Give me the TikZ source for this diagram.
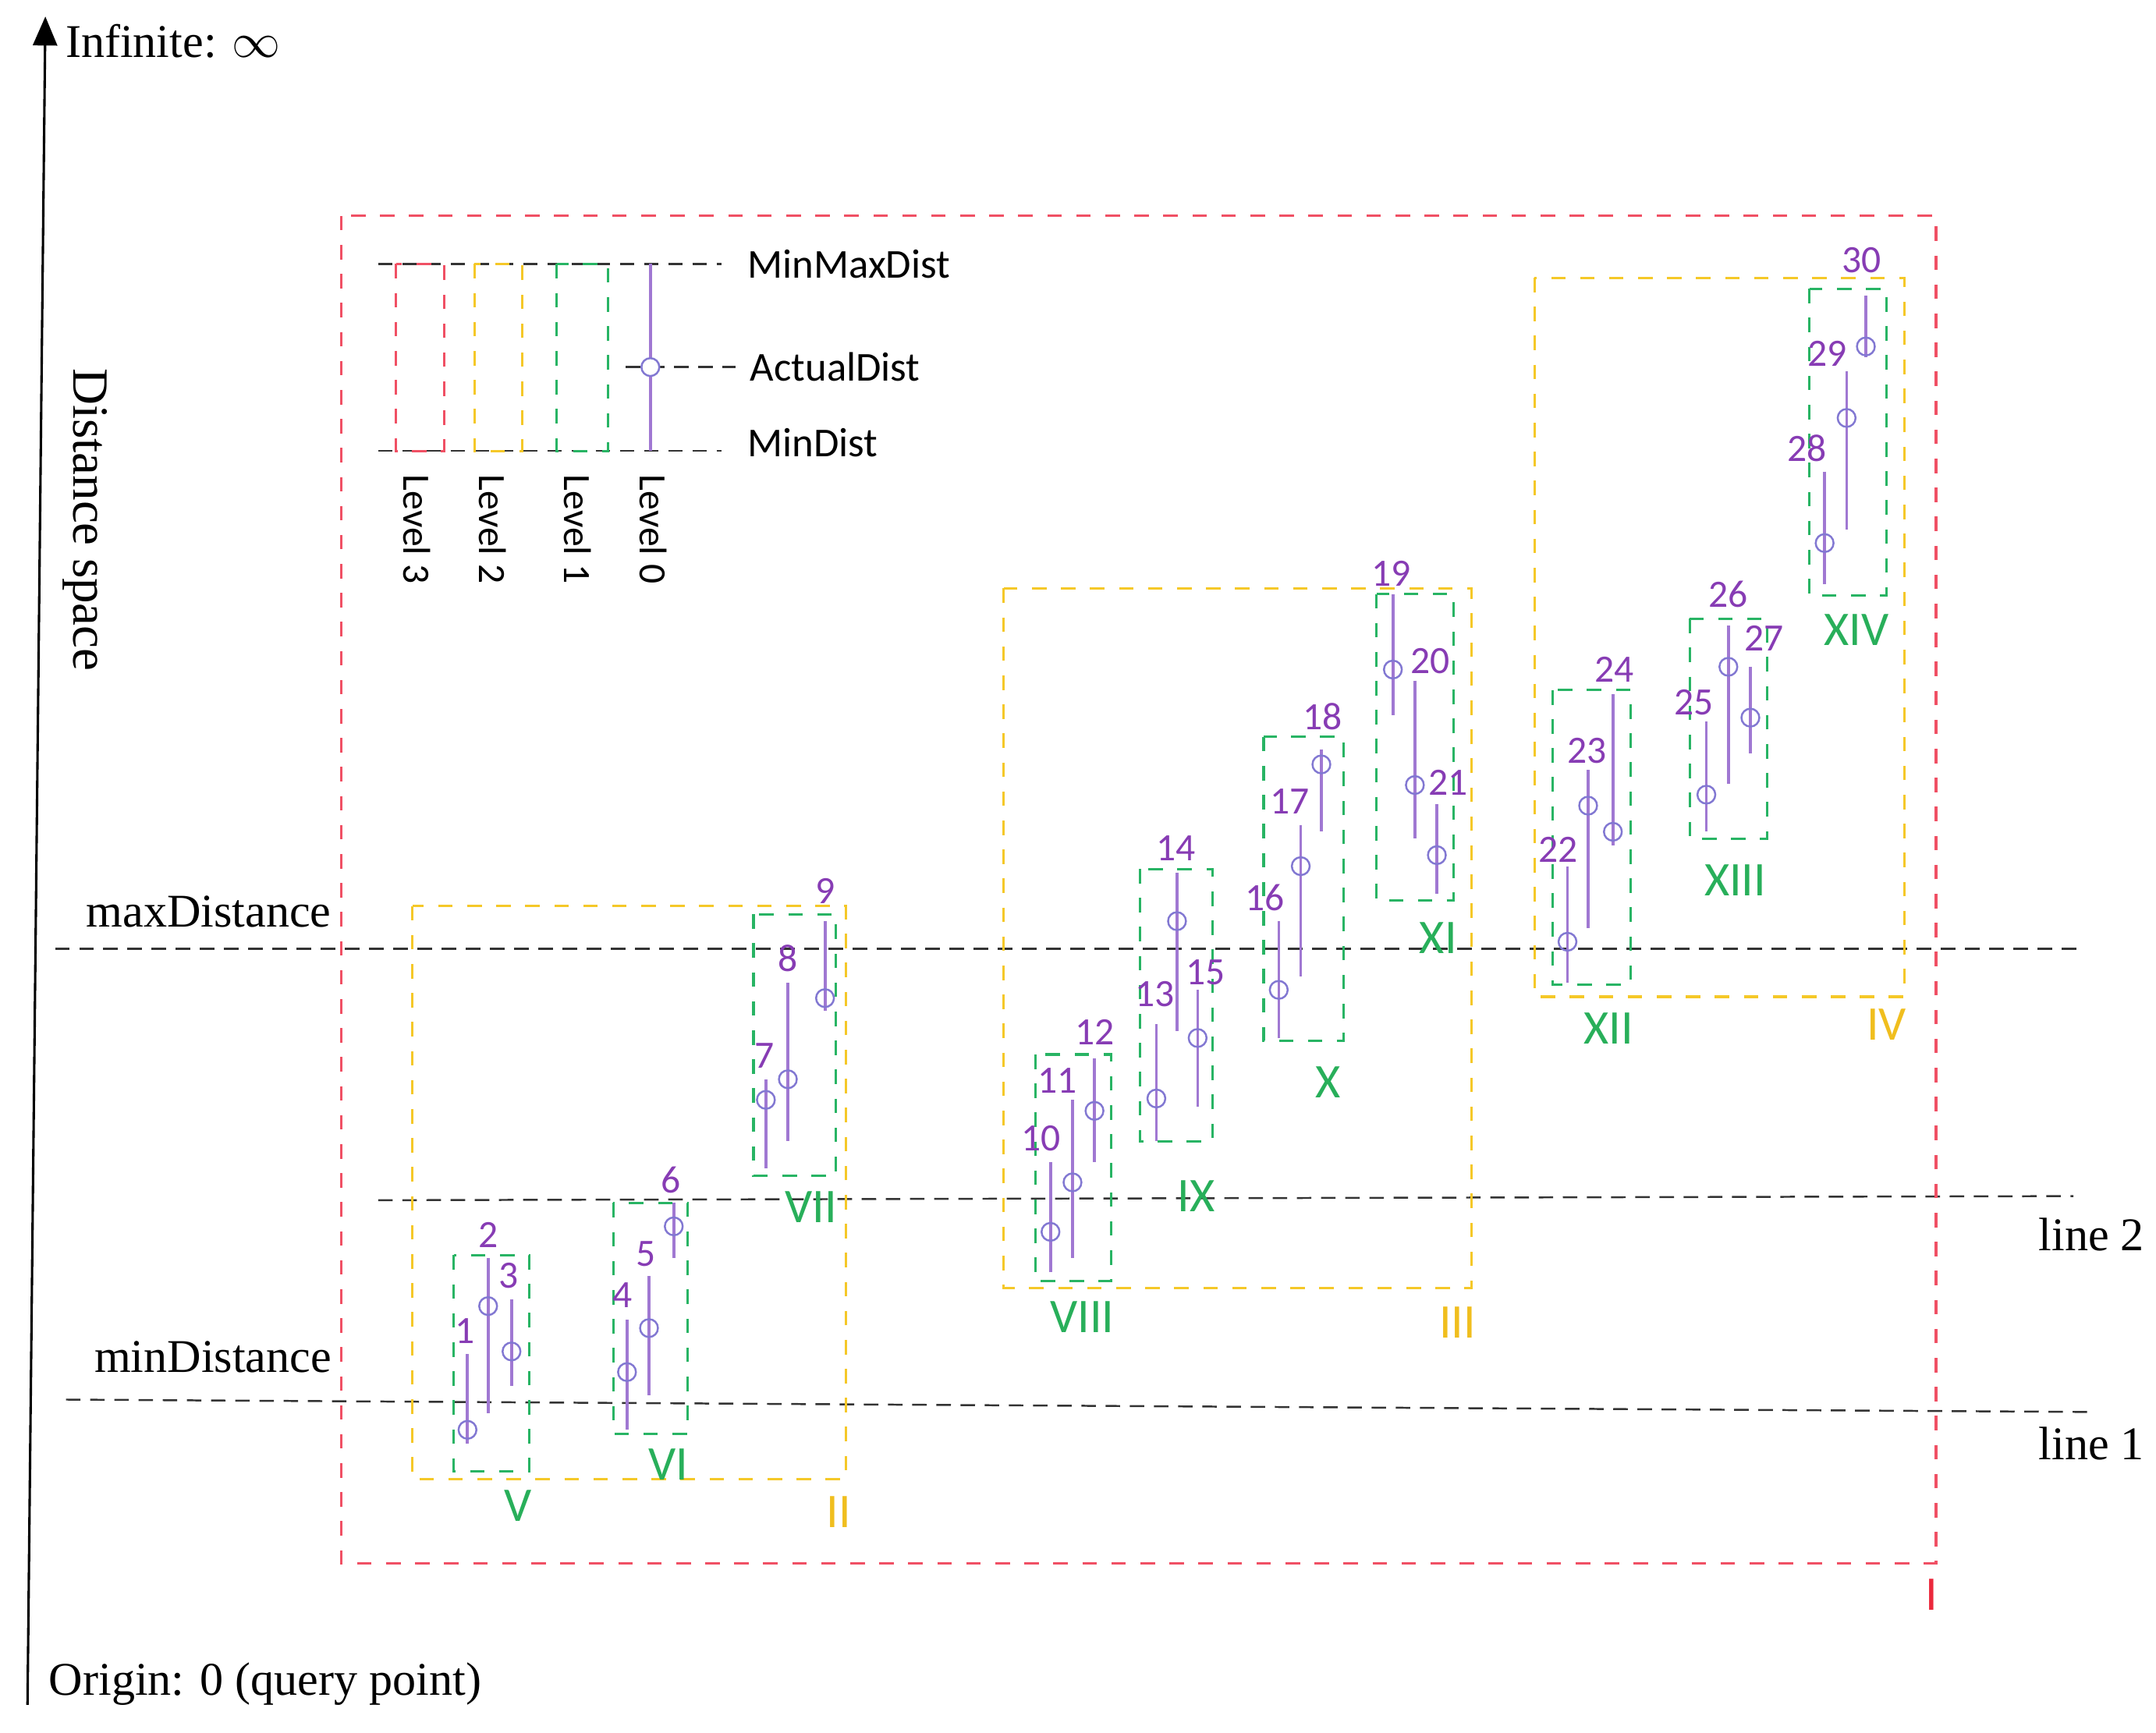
\documentclass[tikz,border=0pt]{standalone}
\usepackage{fontspec}
\usetikzlibrary{arrows.meta}
\setmainfont{Liberation Serif}
\newfontfamily\carf{Carlito}
\begin{document}
\begin{tikzpicture}[x=0.01cm,y=-0.01cm,
 red/.style={draw={rgb,255:red,240;green,80;blue,100},dashed,line width=0.5pt},
 yel/.style={draw={rgb,255:red,245;green,200;blue,40},dashed,line width=0.5pt},
 grn/.style={draw={rgb,255:red,40;green,180;blue,100},dashed,line width=0.5pt},
 ref/.style={draw=black!80,densely dashed,line width=0.4pt},
 bar/.style={draw={rgb,255:red,160;green,120;blue,210},line width=0.6pt},
 dot/.style={circle,draw={rgb,255:red,130;green,120;blue,210},line width=0.4pt,minimum size=0.13cm,inner sep=0pt},
 num/.style={font=\carf\fontsize{8}{9}\selectfont,text={rgb,255:red,135;green,60;blue,180},inner sep=0pt},
 gl/.style={font=\carf\fontsize{10}{11}\selectfont,text={rgb,255:red,40;green,175;blue,90},inner sep=0pt},
 yl/.style={font=\carf\fontsize{10}{11}\selectfont,text={rgb,255:red,240;green,190;blue,30},inner sep=0pt},
 rl/.style={font=\carf\fontsize{10}{11}\selectfont,text={rgb,255:red,235;green,40;blue,60},inner sep=0pt},
 ser/.style={font=\fontsize{9.7}{11}\selectfont,inner sep=0pt},
 sans/.style={font=\carf\fontsize{8.5}{10}\selectfont,inner sep=0pt}]
\useasboundingbox (0,0) rectangle (1568,1260);
% axis
\coordinate (ab) at (20,1240); \coordinate (at) at (33,12);
\draw[-{Triangle[length=6pt,width=5pt]},line width=0.5pt] (ab) -- (at);
\node[ser,anchor=west] (inf) at (47,30) {Infinite: $\infty$};
\node[ser,anchor=west] (org) at (35,1225) {Origin: 0 (query point)};
\node[ser,rotate=-90,font=\fontsize{10.5}{12}\selectfont] (ds) at (62,378) {Distance space};
% reference lines
\coordinate (m1) at (40,690); \coordinate (m2) at (1515,690);
\draw[ref] (m1) -- (m2);
\node[ser,anchor=west] (maxd) at (62,663) {maxDistance};
\coordinate (n1) at (48,1018); \coordinate (n2) at (1518,1027);
\draw[ref] (n1) -- (n2);
\node[ser,anchor=west] (mind) at (68,987) {minDistance};
\coordinate (l1) at (275,873); \coordinate (l2) at (1508,870);
\draw[ref] (l1) -- (l2);
\node[ser,anchor=west] (ln2) at (1482,898) {line 2};
\node[ser,anchor=west] (ln1) at (1482,1050) {line 1};
% level 3
\draw[red] (248,157) rectangle (1408,1137);
\node[rl] (rI) at (1405,1160) {I};
% legend
\coordinate (g1) at (275,192); \coordinate (g2) at (525,192);
\coordinate (g3) at (455,267); \coordinate (g4) at (535,267);
\coordinate (g5) at (275,328); \coordinate (g6) at (525,328);
\draw[ref] (g1) -- (g2); \draw[ref] (g3) -- (g4); \draw[ref] (g5) -- (g6);
\draw[red] (288,192) rectangle (323,328);
\draw[yel] (345,192) rectangle (380,328);
\draw[grn] (405,192) rectangle (442,328);
\coordinate (lt) at (473,192); \coordinate (lb) at (473,328);
\draw[bar] (lt) -- (lb);
\node[dot,fill=white] (ld) at (473,267) {};
\node[sans,anchor=west] (mmd) at (543,192) {MinMaxDist};
\node[sans,anchor=west] (ad) at (545,267) {ActualDist};
\node[sans,anchor=west] (md) at (543,322) {MinDist};
\foreach \x/\t in {303/3,358/2,420/1,475/0}
  \node[sans,rotate=-90,font=\carf\fontsize{8}{9}\selectfont] (lv\t) at (\x,385) {Level \t};
% level 2
\draw[yel] (300,659) rectangle (615,1076); \node[yl] (yII) at (610,1100) {II};
\draw[yel] (730,428) rectangle (1070,937); \node[yl] (yIII) at (1060,962) {III};
\draw[yel] (1116,202) rectangle (1385,725); \node[yl] (yIV) at (1372,745) {IV};
% level 1
\foreach \a/\b/\c/\d/\lx/\ly/\t in {
 330/913/385/1070/377/1095/V, 446/875/500/1043/486/1065/VI,
 548/665/608/855/590/878/VII, 753/767/808/932/787/958/VIII,
 829/632/882/830/870/870/IX, 919/536/977/757/966/787/X,
 1001/432/1057/655/1046/682/XI, 1129/502/1186/716/1170/748/XII,
 1229/450/1285/610/1262/640/XIII, 1316/210/1372/433/1350/458/XIV}
{ \draw[grn] (\a,\b) rectangle (\c,\d); \node[gl] (g\t) at (\lx,\ly) {\t}; }
% level 0
\foreach \x/\t/\b/\c/\lx/\ly/\n in {
 340/985/1050/1040/338/968/1, 355/915/1028/950/355/898/2, 372/945/1008/983/370/928/3,
 456/960/1040/998/453/942/4, 472/928/1015/966/470/912/5, 490/875/915/892/488/858/6,
 557/785/850/800/556/768/7, 573/715/830/785/573/697/8, 600/670/735/726/600/648/9,
 764/845/925/896/757/828/10, 780/800/915/860/769/786/11, 796/770/845/808/796/751/12,
 841/745/830/799/840/723/13, 856/635/750/670/855/617/14, 871/720/805/755/877/707/15,
 930/670/755/720/920/653/16, 946/600/710/630/938/583/17, 961/545/605/556/962/521/18,
 1013/432/520/487/1012/417/19, 1029/495/610/571/1040/481/20, 1045/585/650/622/1053/569/21,
 1140/630/715/685/1133/618/22, 1155/560/675/586/1154/546/23, 1173/505/615/605/1174/487/24,
 1241/525/605/578/1232/511/25, 1257/455/570/485/1257/432/26, 1273/485/548/522/1283/464/27,
 1327/343/425/395/1314/326/28, 1343/270/385/304/1329/257/29, 1357/215/260/252/1354/189/30}
{ \coordinate (t\n) at (\x,\t); \coordinate (b\n) at (\x,\b);
  \draw[bar] (t\n) -- (b\n);
  \node[dot] (c\n) at (\x,\c) {};
  \node[num] (n\n) at (\lx,\ly) {\n}; }
\end{tikzpicture}
\end{document}
